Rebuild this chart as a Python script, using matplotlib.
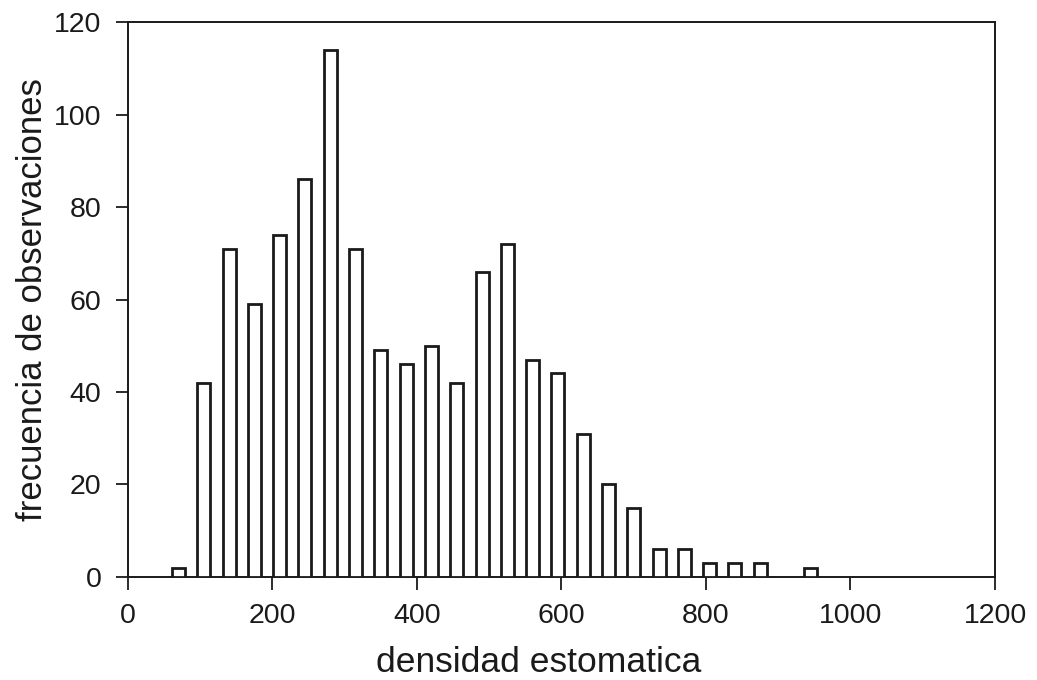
import matplotlib
matplotlib.use("Agg")
import matplotlib.pyplot as plt

# bin centres (densidad estomatica) and counts
bin_centers = [70, 105, 140, 175, 210, 245, 280, 315, 350, 385, 420, 455, 490,
               525, 560, 595, 630, 665, 700, 735, 770, 805, 840, 875, 910, 945]
counts = [2, 42, 71, 59, 74, 86, 114, 71, 49, 46, 50, 42, 66,
          72, 47, 44, 31, 20, 15, 6, 6, 3, 3, 3, 0, 2]
x_ticks = [0, 200, 400, 600, 800, 1000, 1200]
y_ticks = [0, 20, 40, 60, 80, 100, 120]

plt.rcParams['font.family'] = ['Liberation Sans', 'DejaVu Sans']

fig = plt.figure(figsize=(10.37, 6.80), dpi=100)
ax = fig.add_axes([0.1234, 0.1515, 0.8361, 0.8161])

shown = [(c, n) for c, n in zip(bin_centers, counts) if n > 0]
ax.bar([c for c, n in shown], [n for c, n in shown], width=18,
       facecolor='white', edgecolor='#1a1a1a', linewidth=2.0, zorder=3)

ax.set_xlim(0, 1200)
ax.set_ylim(0, 120)
ax.set_xticks(x_ticks)
ax.set_yticks(y_ticks)
ax.tick_params(axis='both', direction='out', length=9, width=1.3,
               labelsize=20.5, colors='#1a1a1a', pad=10)
for side in ['top', 'right', 'left', 'bottom']:
    ax.spines[side].set_linewidth(1.4)
    ax.spines[side].set_color('#1a1a1a')

ax.set_xlabel('densidad estomatica', fontsize=25.5, color='#1a1a1a')
ax.xaxis.set_label_coords(0.474, -0.125)
ax.set_ylabel('frecuencia de observaciones', fontsize=25, color='#1a1a1a', labelpad=4)

fig.savefig('out.png', dpi=100)
